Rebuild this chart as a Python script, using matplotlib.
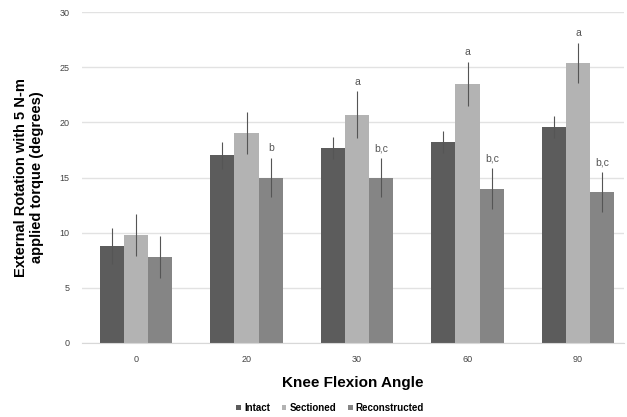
import matplotlib.pyplot as plt
import numpy as np

# Data
angles = ["0", "20", "30", "60", "90"]
intact = [8.8, 17.0, 17.7, 18.2, 19.6]
intact_err = [1.6, 1.2, 1.0, 1.0, 1.0]
sectioned = [9.8, 19.0, 20.7, 23.5, 25.4]
sectioned_err = [1.9, 1.9, 2.1, 2.0, 1.8]
reconstructed = [7.8, 15.0, 15.0, 14.0, 13.7]
reconstructed_err = [1.9, 1.8, 1.8, 1.9, 1.8]
sectioned_marks = ["", "", "a", "a", "a"]
reconstructed_marks = ["", "b", "b,c", "b,c", "b,c"]

plt.rcParams['font.family'] = ['Liberation Sans', 'DejaVu Sans']

fig = plt.figure(figsize=(6.27, 4.17), dpi=100)
ax = fig.add_axes([82 / 627, 1 - 343 / 417, (624 - 82) / 627, (343 - 12) / 417])

x = np.arange(len(angles))
w = 0.22
series = [
    (intact, intact_err, "#5c5c5c", "Intact"),
    (sectioned, sectioned_err, "#b3b3b3", "Sectioned"),
    (reconstructed, reconstructed_err, "#858585", "Reconstructed"),
]
for i, (vals, errs, col, name) in enumerate(series):
    ax.bar(x + (i - 1) * w, vals, w, color=col, label=name, zorder=2)
    ax.errorbar(x + (i - 1) * w, vals, yerr=errs, fmt="none", ecolor="#555555",
                elinewidth=0.8, capsize=0, zorder=3)

# significance letters
for i in range(len(angles)):
    if sectioned_marks[i]:
        ax.text(x[i], sectioned[i] + sectioned_err[i] + 0.4, sectioned_marks[i],
                ha="center", va="bottom", fontsize=7.5, color="#555555")
    if reconstructed_marks[i]:
        ax.text(x[i] + w, reconstructed[i] + reconstructed_err[i] + 0.4, reconstructed_marks[i],
                ha="center", va="bottom", fontsize=7.5, color="#555555")

ax.set_xlim(-0.489, 4.416)
ax.set_ylim(0, 30)
ax.set_yticks(range(0, 31, 5))
ax.set_xticks(x)
ax.set_xticklabels(angles)
ax.tick_params(length=0, labelsize=6.5, colors="#444444")
ax.tick_params(axis="y", pad=9)
ax.tick_params(axis="x", pad=9)
ax.yaxis.grid(True, color="#e2e2e2", linewidth=1.0, zorder=0)
for s in ["top", "right", "left"]:
    ax.spines[s].set_visible(False)
ax.spines["bottom"].set_color("#d8d8d8")

ax.set_ylabel("External Rotation with 5 N-m\napplied torque (degrees)",
              fontsize=10.5, fontweight="bold", labelpad=11)
ax.set_xlabel("Knee Flexion Angle", fontsize=11, fontweight="bold", labelpad=8)

fig.legend(loc="center", bbox_to_anchor=(330 / 627, 1 - 408 / 417), ncol=3,
           frameon=False, handlelength=0.5, handleheight=0.5,
           handletextpad=0.3, columnspacing=1.2,
           prop={"weight": "bold", "size": 7})

fig.savefig("out.png", dpi=100)
